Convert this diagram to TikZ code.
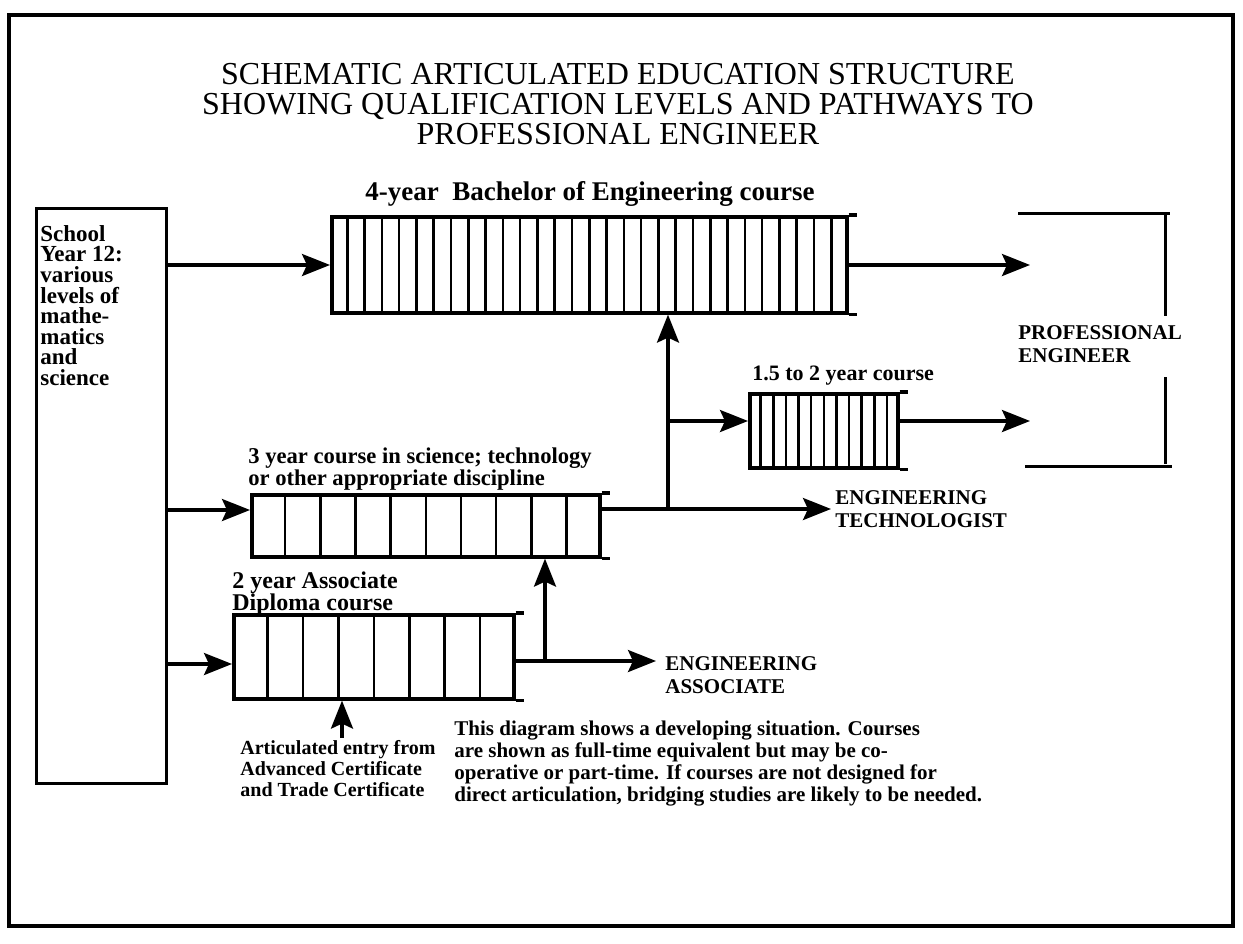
\documentclass[tikz,border=0pt]{standalone}
\usepackage{fontspec}
\setmainfont{Liberation Serif}
\usetikzlibrary{arrows.meta,calc}

% cell dividers inside a course bar; top and bottom rails run on a little past the end
\newcommand\drawcells[2]{%
  \pgfmathtruncatemacro\lastcell{#2-1}%
  \foreach \k in {1,...,\lastcell}{%
    \draw[cellline] ($(#1.north west)!\k/#2!(#1.north east)$) -- ($(#1.south west)!\k/#2!(#1.south east)$);}%
  \draw[rail] (#1.north east) -- ++(8,0) (#1.south east) -- ++(8,0);}

\tikzset{
  frameline/.style={line width=1.6pt},
  rail/.style={line width=1.8pt},
  cellline/.style={line width=1.3pt},
  coursebar/.style={draw, line width=1.8pt, inner sep=0pt, anchor=north west},
  flow/.style={line width=1.6pt, -{Stealth[length=14pt,width=11pt,inset=2.5pt]}},
  plain/.style={line width=1.5pt},
  titletext/.style={font=\fontsize{16}{15}\selectfont, align=center},
  labeltext/.style={font=\fontsize{12}{11}\bfseries, align=left, inner sep=0pt},
  notetext/.style={font=\fontsize{10.5}{10.6}\bfseries, align=left, inner sep=0pt},
  outcome/.style={font=\fontsize{10.5}{11.5}\bfseries, align=left, inner sep=0pt, anchor=west},
}

\begin{document}
\begin{tikzpicture}[x=0.5pt,y=-0.5pt]
  \useasboundingbox (0,0) rectangle (1243,943);
  \draw[frameline] (9,15) rectangle (1233,926);

  % heading
  \node[titletext] (title) at (618,104)
    {SCHEMATIC ARTICULATED EDUCATION STRUCTURE\\
     SHOWING QUALIFICATION LEVELS AND PATHWAYS TO\\
     PROFESSIONAL ENGINEER};

  % school entry column
  \node[draw, line width=1.5pt, anchor=north west, minimum width=65pt, minimum height=287.5pt, inner sep=0pt] (school) at (35,207) {};
  \node[labeltext, anchor=north west, font=\fontsize{11.5}{10.3}\bfseries] (schooltext) at (40,225)
    {School\\Year 12:\\various\\levels of\\mathe-\\matics\\and\\science};

  % 4-year degree
  \node[labeltext, anchor=center, font=\fontsize{13.5}{10}\bfseries] (belabel) at (590,194) {4-year\ \ Bachelor of Engineering course};
  \node[coursebar, minimum width=257.5pt, minimum height=48pt] (be) at (330,215) {};
  \drawcells{be}{30}

  % 1.5 to 2 year top-up
  \node[labeltext, anchor=west, font=\fontsize{11}{10}\bfseries] (toplabel) at (752,376) {1.5 to 2 year course};
  \node[coursebar, minimum width=74pt, minimum height=37pt] (topup) at (748,392) {};
  \drawcells{topup}{12}

  % 3-year course
  \node[labeltext, anchor=north west, font=\fontsize{11.3}{11}\bfseries] (techlabel) at (248,447)
    {3 year course in science; technology\\or other appropriate discipline};
  \node[coursebar, minimum width=174pt, minimum height=31pt] (tech) at (250,493) {};
  \drawcells{tech}{10}

  % 2-year associate diploma
  \node[labeltext, anchor=north west] (assoclabel) at (232,571)
    {2 year Associate\\Diploma course};
  \node[coursebar, minimum width=140pt, minimum height=42pt] (assoc) at (232,613) {};
  \drawcells{assoc}{8}

  % outcomes
  \node[outcome, anchor=north west] (proeng) at (1018,325) {PROFESSIONAL\\ENGINEER};
  \node[outcome] (techno) at (835,509) {ENGINEERING\\TECHNOLOGIST};
  \node[outcome] (assocout) at (665,675) {ENGINEERING\\ASSOCIATE};

  % bracket gathering the two routes to professional engineer
  \draw[plain] (1018,213) -- (1170,213);
  \draw[plain] (1165,213) -- (1165,316);
  \draw[plain] (1165,377) -- (1165,464);
  \draw[plain] (1025,466) -- (1172,466);

  % entry points, free ends and junctions
  \coordinate (bein) at (330,265);
  \coordinate (techin) at (250,510);
  \coordinate (associn) at (232,664);
  \coordinate (beend) at (1030,265);
  \coordinate (topend) at (1030,421);
  \coordinate (techend) at (831,509);
  \coordinate (assocend) at (656,661);
  \coordinate (jtech) at (668,509);
  \coordinate (jtop) at (668,421);
  \coordinate (jassoc) at (545,661);
  \coordinate (artic) at (342,738);

  % entries from school
  \draw[flow] (school.east |- bein) -- (bein);
  \draw[flow] (school.east |- techin) -- (techin);
  \draw[flow] (school.east |- associn) -- (associn);

  % exits
  \draw[flow] (be.east |- beend) -- (beend);
  \draw[flow] (topup.east |- topend) -- (topend);
  \draw[flow] (tech.east |- techend) -- (techend);
  \draw[flow] (assoc.east |- assocend) -- (assocend);

  % articulation links
  \draw[flow] (jtech) -- (jtech |- be.south);
  \draw[flow] (jtop) -- (topup.west |- jtop);
  \draw[flow] (jassoc) -- (jassoc |- tech.south);
  \draw[flow] (artic) -- (artic |- assoc.south);

  % notes at the foot
  \node[notetext, anchor=north west, font=\fontsize{10}{10.4}\bfseries] (articnote) at (240,740)
    {Articulated entry from\\Advanced Certificate\\and Trade Certificate};
  \node[notetext, anchor=north west, font=\fontsize{10.5}{11}\bfseries] (note) at (454,721)
    {This diagram shows a developing situation. Courses\\
     are shown as full-time equivalent but may be co-\\
     operative or part-time. If courses are not designed for\\
     direct articulation, bridging studies are likely to be needed.};
\end{tikzpicture}
\end{document}
